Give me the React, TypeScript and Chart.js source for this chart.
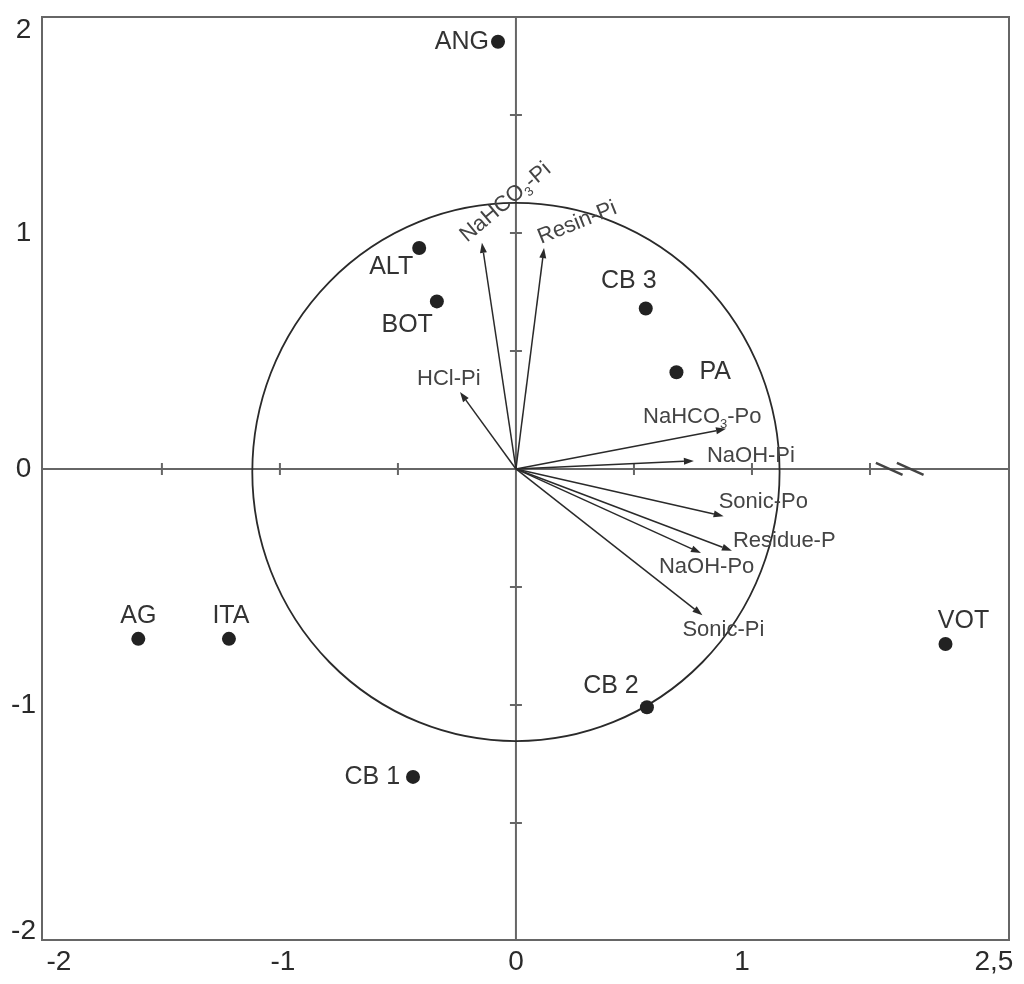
import React, { useEffect, useRef } from "react";
import { Chart, registerables } from "chart.js";

Chart.register(...registerables);

// ---- data ----
const siteNames = ["ANG", "ALT", "BOT", "CB 3", "PA", "AG", "ITA", "VOT", "CB 2", "CB 1"];
const siteX = [-0.076, -0.41, -0.335, 0.55, 0.68, -1.6, -1.216, 1.82, 0.555, -0.436];
const siteY = [1.81, 0.936, 0.71, 0.68, 0.41, -0.72, -0.72, -0.742, -1.01, -1.305];

const varNames = ["NaHCO_3-Pi", "Resin-Pi", "HCl-Pi", "NaHCO_3-Po", "NaOH-Pi", "Sonic-Po", "Residue-P", "NaOH-Po", "Sonic-Pi"];
const varX = [-0.144, 0.119, -0.237, 0.89, 0.754, 0.88, 0.915, 0.784, 0.79];
const varY = [0.958, 0.936, 0.326, 0.17, 0.034, -0.2, -0.347, -0.356, -0.62];

const xTickValues = [-1.936, -0.987, 0, 0.958, 2.025];
const xTickLabels = ["-2", "-1", "0", "1", "2,5"];
const yTickValues = [-1.96, -1, 0, 1, 1.86];
const yTickLabels = ["-2", "-1", "0", "1", "2"];
const axisMarkValues = [-1.5, -1, -0.5, 0.5, 1, 1.5];

const xRange = [-2.008, 2.089];
const yRange = [-1.996, 1.915];
const circleCenter = [0, -0.013];
const circleRadius = [1.117, 1.14];
const breakMarkStarts = [1.525, 1.614];
const breakMarkWidth = 0.113;

// ---- layout of labels (pixel offsets) ----
const siteLabelLayout: { dx: number; dy: number; align: CanvasTextAlign }[] = [
  { dx: -9, dy: 0, align: "right" },
  { dx: -6, dy: 19, align: "right" },
  { dx: -4, dy: 24, align: "right" },
  { dx: -17, dy: -27, align: "center" },
  { dx: 23, dy: 0, align: "left" },
  { dx: 0, dy: -23, align: "center" },
  { dx: 2, dy: -23, align: "center" },
  { dx: 18, dy: -23, align: "center" },
  { dx: -36, dy: -21, align: "center" },
  { dx: -13, dy: 0, align: "right" },
];
const varLabelLayout = [
  { dx: -15, dy: 0, rot: -40 },
  { dx: -3, dy: -4, rot: -22 },
  { dx: -43, dy: -7, rot: 0 },
  { dx: -83, dy: -6, rot: 0 },
  { dx: 13, dy: 1, rot: 0 },
  { dx: -5, dy: -8, rot: 0 },
  { dx: 1, dy: -4, rot: 0 },
  { dx: -42, dy: 20, rot: 0 },
  { dx: -20, dy: 21, rot: 0 },
];

const FONT = '"Liberation Sans", Arial, Helvetica, sans-serif';

function drawSubText(ctx: CanvasRenderingContext2D, text: string, x: number, y: number, size: number) {
  // "_" marks the next character as subscript
  let cx = x;
  let i = 0;
  while (i < text.length) {
    if (text[i] === "_" && i + 1 < text.length) {
      const s = text[i + 1];
      ctx.font = `${Math.round(size * 0.6)}px ${FONT}`;
      ctx.fillText(s, cx, y + size * 0.22);
      cx += ctx.measureText(s).width;
      i += 2;
    } else {
      let j = i;
      while (j < text.length && text[j] !== "_") j++;
      const part = text.slice(i, j);
      ctx.font = `${size}px ${FONT}`;
      ctx.fillText(part, cx, y);
      cx += ctx.measureText(part).width;
      i = j;
    }
  }
}

const biplotPlugin = {
  id: "biplot",
  beforeDatasetsDraw(chart: any) {
    const { ctx, chartArea: a } = chart;
    const xs = chart.scales.x;
    const ys = chart.scales.y;
    const px = (v: number) => xs.getPixelForValue(v);
    const py = (v: number) => ys.getPixelForValue(v);
    ctx.save();
    ctx.lineCap = "butt";
    // zero axes
    ctx.strokeStyle = "#666";
    ctx.lineWidth = 2;
    ctx.beginPath();
    ctx.moveTo(a.left, py(0));
    ctx.lineTo(a.right, py(0));
    ctx.moveTo(px(0), a.top);
    ctx.lineTo(px(0), a.bottom);
    axisMarkValues.forEach((v) => {
      ctx.moveTo(px(v), py(0) - 6);
      ctx.lineTo(px(v), py(0) + 6);
      ctx.moveTo(px(0) - 6, py(v));
      ctx.lineTo(px(0) + 6, py(v));
    });
    ctx.stroke();
    // axis break marks
    ctx.strokeStyle = "#444";
    ctx.lineWidth = 2.5;
    ctx.beginPath();
    breakMarkStarts.forEach((v) => {
      ctx.moveTo(px(v), py(0) - 6);
      ctx.lineTo(px(v + breakMarkWidth), py(0) + 6);
    });
    ctx.stroke();
    // frame
    ctx.strokeStyle = "#666";
    ctx.lineWidth = 2;
    ctx.strokeRect(a.left, a.top, a.right - a.left, a.bottom - a.top);
    // correlation circle
    ctx.strokeStyle = "#2a2a2a";
    ctx.lineWidth = 1.8;
    ctx.beginPath();
    ctx.ellipse(
      px(circleCenter[0]),
      py(circleCenter[1]),
      px(circleRadius[0]) - px(0),
      py(0) - py(circleRadius[1]),
      0,
      0,
      Math.PI * 2
    );
    ctx.stroke();
    // arrows
    const ox = px(0);
    const oy = py(0);
    ctx.strokeStyle = "#2a2a2a";
    ctx.fillStyle = "#2a2a2a";
    ctx.lineWidth = 1.5;
    varX.forEach((vx, i) => {
      const tx = px(vx);
      const ty = py(varY[i]);
      const ang = Math.atan2(ty - oy, tx - ox);
      const hl = 10;
      const hw = 3.5;
      const bx = tx - hl * Math.cos(ang);
      const by = ty - hl * Math.sin(ang);
      ctx.beginPath();
      ctx.moveTo(ox, oy);
      ctx.lineTo(bx, by);
      ctx.stroke();
      ctx.beginPath();
      ctx.moveTo(tx, ty);
      ctx.lineTo(bx + hw * Math.sin(ang), by - hw * Math.cos(ang));
      ctx.lineTo(bx - hw * Math.sin(ang), by + hw * Math.cos(ang));
      ctx.closePath();
      ctx.fill();
    });
    ctx.restore();
  },
  afterDatasetsDraw(chart: any) {
    const { ctx } = chart;
    const xs = chart.scales.x;
    const ys = chart.scales.y;
    ctx.save();
    // variable labels
    ctx.fillStyle = "#444";
    ctx.textAlign = "left";
    ctx.textBaseline = "alphabetic";
    varNames.forEach((name, i) => {
      const l = varLabelLayout[i];
      const x = xs.getPixelForValue(varX[i]) + l.dx;
      const y = ys.getPixelForValue(varY[i]) + l.dy;
      ctx.save();
      ctx.translate(x, y);
      ctx.rotate((l.rot * Math.PI) / 180);
      drawSubText(ctx, name, 0, 0, 22);
      ctx.restore();
    });
    // site labels
    ctx.fillStyle = "#333";
    ctx.font = `25px ${FONT}`;
    ctx.textBaseline = "middle";
    siteNames.forEach((name, i) => {
      const l = siteLabelLayout[i];
      ctx.textAlign = l.align;
      ctx.fillText(name, xs.getPixelForValue(siteX[i]) + l.dx, ys.getPixelForValue(siteY[i]) + l.dy);
    });
    ctx.restore();
  },
};

export default function App() {
  const ref = useRef<HTMLCanvasElement | null>(null);
  useEffect(() => {
    document.body.style.margin = "0";
    const canvas = ref.current;
    if (!canvas) return;
    const chart = new Chart(canvas, {
      type: "scatter",
      data: {
        datasets: [
          {
            label: "Sites",
            data: siteX.map((x, i) => ({ x, y: siteY[i] })),
            pointRadius: 7,
            pointHoverRadius: 7,
            pointBackgroundColor: "#222",
            pointBorderWidth: 0,
            showLine: false,
          },
        ],
      },
      options: {
        animation: false,
        responsive: false,
        devicePixelRatio: 1,
        events: [],
        layout: { padding: { top: 17, right: 15, left: 0, bottom: 0 } },
        plugins: {
          legend: { display: false },
          tooltip: { enabled: false },
        },
        scales: {
          x: {
            type: "linear",
            min: xRange[0],
            max: xRange[1],
            grid: { display: false, drawTicks: false },
            border: { display: false },
            afterBuildTicks: (scale: any) => {
              scale.ticks = xTickValues.map((v) => ({ value: v }));
            },
            afterFit: (scale: any) => {
              scale.height = 44;
              scale.paddingLeft = 0;
              scale.paddingRight = 0;
            },
            ticks: {
              autoSkip: false,
              maxRotation: 0,
              minRotation: 0,
              padding: 5,
              color: "#2a2a2a",
              font: { family: FONT, size: 28 },
              callback: (_v: any, i: number) => xTickLabels[i],
            },
          },
          y: {
            type: "linear",
            min: yRange[0],
            max: yRange[1],
            grid: { display: false, drawTicks: false },
            border: { display: false },
            afterBuildTicks: (scale: any) => {
              scale.ticks = yTickValues.map((v) => ({ value: v }));
            },
            afterFit: (scale: any) => {
              scale.width = 42;
              scale.paddingTop = 0;
              scale.paddingBottom = 0;
            },
            ticks: {
              autoSkip: false,
              crossAlign: "center",
              padding: 6,
              color: "#2a2a2a",
              font: { family: FONT, size: 28 },
              callback: (_v: any, i: number) => yTickLabels[i],
            },
          },
        },
      },
      plugins: [biplotPlugin],
    } as any);
    return () => chart.destroy();
  }, []);
  return (
    <div style={{ width: 1024, height: 984 }}>
      <canvas ref={ref} width={1024} height={984} style={{ display: "block" }} />
    </div>
  );
}
